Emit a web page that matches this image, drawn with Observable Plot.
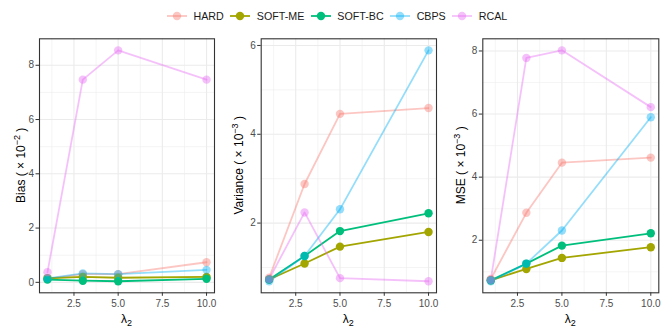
<!DOCTYPE html>
<html><head><meta charset="utf-8">
<script src="https://cdn.jsdelivr.net/npm/d3@7"></script>
<script src="https://cdn.jsdelivr.net/npm/@observablehq/plot@0.6"></script>
<style>
body{margin:0;background:#fff;font-family:"Liberation Sans",Arial,Helvetica,sans-serif;}
#root{position:relative;width:664px;height:332px;overflow:hidden;background:#fff}
#legend{position:absolute;top:0;left:167px;height:32px;display:flex;align-items:center;font-size:10.7px;color:#1a1a1a}
.item{display:flex;align-items:center;margin-right:6.5px}
.item svg{margin-right:6.5px}
.panel{position:absolute;top:30px}
</style></head><body><div id="root"><div id="legend"></div></div>
<script>
// ---- data ----
const lambda = [1, 3, 5, 10];
const methods = ["HARD", "SOFT-ME", "SOFT-BC", "CBPS", "RCAL"];
const colors = ["#F8766D", "#A3A500", "#00BF7D", "#00B0F6", "#E76BF3"];
const alphas = [0.42, 1, 1, 0.42, 0.42];

const biasHARD   = [0.13, 0.30, 0.30, 0.74];
const biasSOFTME = [0.15, 0.20, 0.17, 0.20];
const biasSOFTBC = [0.10, 0.06, 0.04, 0.13];
const biasCBPS   = [0.15, 0.33, 0.30, 0.46];
const biasRCAL   = [0.37, 7.47, 8.55, 7.47];

const varHARD   = [0.77, 2.88, 4.46, 4.59];
const varSOFTME = [0.73, 1.09, 1.47, 1.80];
const varSOFTBC = [0.73, 1.26, 1.82, 2.22];
const varCBPS   = [0.69, 1.26, 2.31, 5.89];
const varRCAL   = [0.74, 2.24, 0.76, 0.69];

const mseHARD   = [0.77, 2.87, 4.46, 4.62];
const mseSOFTME = [0.73, 1.09, 1.44, 1.78];
const mseSOFTBC = [0.73, 1.26, 1.83, 2.22];
const mseCBPS   = [0.70, 1.26, 2.31, 5.90];
const mseRCAL   = [0.75, 7.78, 8.02, 6.22];

const xTicks = [2.5, 5, 7.5, 10];
const xMinor = [1.25, 3.75, 6.25, 8.75];
const biasTicks = [0, 2, 4, 6, 8];
const biasMinor = [1, 3, 5, 7];
const varTicks = [2, 4, 6];
const varMinor = [1, 3, 5];
const mseTicks = [2, 4, 6, 8];
const mseMinor = [1, 3, 5, 7];

const FONT = '"Liberation Sans",Arial,Helvetica,sans-serif';

function toRows(series) {
  const rows = [];
  methods.forEach((m, i) => series[i].forEach((v, j) => rows.push({method: m, lambda: lambda[j], value: v})));
  return rows;
}

function panel(series, yTicks, yMinor, name, exp, left, width, ml, mr) {
  const rows = toRows(series);
  const [lo, hi] = d3.extent(rows, d => d.value);
  const pad = (hi - lo) * 0.05;
  const lines = methods.map((m, i) => Plot.line(rows.filter(d => d.method === m),
    {x: "lambda", y: "value", stroke: colors[i], strokeOpacity: alphas[i], strokeWidth: 1.8}));
  const dots = methods.map((m, i) => Plot.dot(rows.filter(d => d.method === m),
    {x: "lambda", y: "value", fill: colors[i], fillOpacity: alphas[i], r: 4.2, stroke: "none"}));
  const grid = {stroke: "#EBEBEB", strokeOpacity: 1};
  const chart = Plot.plot({
    width, height: 302, marginTop: 8.3, marginBottom: 39.7, marginLeft: ml, marginRight: mr,
    x: {domain: [0.55, 10.45]},
    y: {domain: [lo - pad, hi + pad]},
    style: {fontFamily: FONT, fontSize: "10px", background: "white", overflow: "visible"},
    marks: [
      Plot.gridX(xMinor, {...grid, strokeWidth: 0.55}),
      Plot.gridY(yMinor, {...grid, strokeWidth: 0.55}),
      Plot.gridX(xTicks, {...grid, strokeWidth: 1.1}),
      Plot.gridY(yTicks, {...grid, strokeWidth: 1.1}),
      ...lines,
      ...dots,
      Plot.frame({stroke: "#333333", strokeWidth: 1.1}),
      Plot.axisX(xTicks, {tickSize: 3.5, tickPadding: 3.5, tickFormat: d3.format(".1f"), stroke: "#333333", fill: "#4D4D4D", label: null}),
      Plot.axisY(yTicks, {tickSize: 3.5, tickPadding: 2, tickFormat: d3.format("d"), stroke: "#333333", fill: "#4D4D4D", label: null})
    ]
  });
  const svg = d3.select(chart);
  const cy = (8.3 + 302 - 39.7) / 2;
  const t = svg.append("text")
    .attr("transform", `translate(24.5,${cy}) rotate(-90)`)
    .attr("text-anchor", "middle")
    .attr("fill", "#000")
    .style("font-size", "12px").style("font-family", FONT);
  t.append("tspan").text(name + " ( \u00D7 10");
  t.append("tspan").attr("dy", -5).style("font-size", "9px").text("\u2212" + exp);
  t.append("tspan").attr("dy", 5).text(" )");
  const cx = ml + (width - ml - mr) / 2;
  const xt = svg.append("text")
    .attr("x", cx).attr("y", 293)
    .attr("text-anchor", "middle").attr("fill", "#000")
    .style("font-size", "12px").style("font-family", FONT);
  xt.append("tspan").text("\u03BB");
  xt.append("tspan").attr("dy", 3).style("font-size", "9px").text("2");
  const div = document.createElement("div");
  div.className = "panel";
  div.style.left = left + "px";
  div.appendChild(chart);
  document.getElementById("root").appendChild(div);
}

panel([biasHARD, biasSOFTME, biasSOFTBC, biasCBPS, biasRCAL], biasTicks, biasMinor, "Bias", "2", 0, 218, 39, 4);
panel([varHARD, varSOFTME, varSOFTBC, varCBPS, varRCAL], varTicks, varMinor, "Variance", "3", 218, 222, 42.7, 4);
panel([mseHARD, mseSOFTME, mseSOFTBC, mseCBPS, mseRCAL], mseTicks, mseMinor, "MSE", "3", 440, 224, 42.3, 5.7);

// legend
const legend = document.getElementById("legend");
methods.forEach((m, i) => {
  const item = document.createElement("div");
  item.className = "item";
  const s = d3.create("svg").attr("width", 20).attr("height", 14);
  s.append("line").attr("x1", 0).attr("x2", 20).attr("y1", 7).attr("y2", 7)
    .attr("stroke", colors[i]).attr("stroke-opacity", alphas[i]).attr("stroke-width", 1.8);
  s.append("circle").attr("cx", 10).attr("cy", 7).attr("r", 4.2)
    .attr("fill", colors[i]).attr("fill-opacity", alphas[i]);
  item.appendChild(s.node());
  const lab = document.createElement("span");
  lab.textContent = m;
  item.appendChild(lab);
  legend.appendChild(item);
});
</script></body></html>
